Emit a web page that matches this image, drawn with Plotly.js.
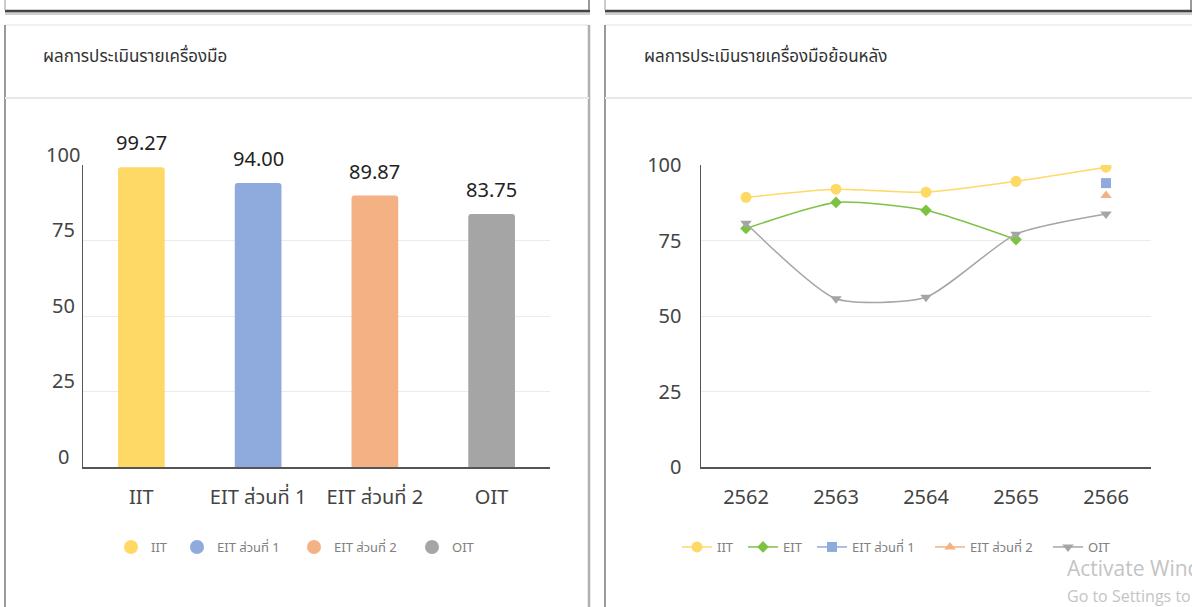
<!DOCTYPE html>
<html>
<head>
<meta charset="utf-8">
<script src="https://cdn.plot.ly/plotly-3.0.1.min.js"></script>
<style>
html,body{margin:0;padding:0;background:#fff;overflow:hidden;}
#chart{width:1192px;height:607px;}
</style>
</head>
<body>
<div id="chart"></div>
<script>
// ---- data ----
const barTitle = "ผลการประเมินรายเครื่องมือ";
const lineTitle = "ผลการประเมินรายเครื่องมือย้อนหลัง";
const barCategories = ["IIT", "EIT ส่วนที่ 1", "EIT ส่วนที่ 2", "OIT"];
const barValues = [99.27, 94.00, 89.87, 83.75];
const barColors = ["#FFD966", "#8FAADC", "#F4B183", "#A5A5A5"];
const yTicks = [0, 25, 50, 75, 100];

const years = ["2562", "2563", "2564", "2565", "2566"];
const iitSeries = [89.3, 92.0, 91.0, 94.6, 99.27];
const eitSeries = [79.0, 87.6, 85.0, 75.3, null];
const eit1Series = [null, null, null, null, 94.00];
const eit2Series = [null, null, null, null, 89.87];
const oitSeries = [80.7, 55.7, 56.2, 77.1, 83.75];
const lineNames = ["IIT", "EIT", "EIT ส่วนที่ 1", "EIT ส่วนที่ 2", "OIT"];
const lineColors = ["#FFD966", "#7DC242", "#8FAADC", "#F4B183", "#A5A5A5"];

// ---- helpers (pixel -> paper) ----
const W = 1192, H = 607;
const X = p => p / W;
const Y = p => 1 - p / H;
const FONT = "'Noto Sans', 'Noto Sans Thai', 'Open Sans', sans-serif";

// legend item symbol centres (pixels)
const barLegendX = [131, 197, 314, 432];
const lineLegendX = [697, 763, 832, 950, 1068];
const legendY = 547;

const traces = [];
const layoutLegends = {};
const legendStyle = (px) => ({
  orientation: "h", x: X(px - 20), xanchor: "left", y: Y(legendY), yanchor: "middle",
  font: {family: FONT, size: 13, color: "#808080"}, bgcolor: "rgba(0,0,0,0)", borderwidth: 0
});

// bars
traces.push({
  type: "bar", x: barCategories, y: barValues,
  marker: {color: barColors, cornerradius: 3},
  width: 0.4, showlegend: false, hoverinfo: "x+y",
  xaxis: "x", yaxis: "y"
});
// legend entries (circles) for bar chart
let legIdx = 1;
barCategories.forEach((c, i) => {
  const key = legIdx === 1 ? "legend" : "legend" + legIdx;
  layoutLegends[key] = legendStyle(barLegendX[i]);
  traces.push({
    type: "scatter", mode: "markers", x: [null], y: [null], name: c,
    marker: {color: barColors[i], size: 14, symbol: "circle"},
    xaxis: "x", yaxis: "y", legend: key
  });
  legIdx++;
});
// lines
const lineData = [iitSeries, eitSeries, eit1Series, eit2Series, oitSeries];
const symbols = ["circle", "diamond", "square", "triangle-up", "triangle-down"];
const sizes = [11, 9, 10, 10, 10];
lineData.forEach((d, i) => {
  const key = "legend" + legIdx;
  layoutLegends[key] = legendStyle(lineLegendX[i]);
  traces.push({
    type: "scatter", mode: "lines+markers", x: years, y: d, name: lineNames[i],
    line: {color: lineColors[i], width: 1.5, shape: "spline", smoothing: 0.6},
    marker: {color: lineColors[i], size: sizes[i], symbol: symbols[i]},
    connectgaps: false,
    xaxis: "x2", yaxis: "y2", legend: key
  });
  legIdx++;
});

const annotations = [];
// bar value labels
barCategories.forEach((c, i) => {
  annotations.push({
    xref: "x", yref: "y", x: c, y: barValues[i], text: barValues[i].toFixed(2),
    showarrow: false, yanchor: "bottom", yshift: 9,
    font: {family: FONT, size: 20, color: "#222"}
  });
});
// left y tick labels (centered above gridlines)
yTicks.forEach(t => {
  annotations.push({
    xref: "paper", yref: "y", x: X(63), y: t, text: String(t),
    showarrow: false, xanchor: "center", yanchor: "middle", yshift: 11,
    font: {family: FONT, size: 20, color: "#444"}
  });
});
// card titles
annotations.push({xref: "paper", yref: "paper", x: X(41), y: Y(56), text: barTitle,
  showarrow: false, xanchor: "left", yanchor: "middle", font: {family: FONT, size: 17, color: "#333"}});
annotations.push({xref: "paper", yref: "paper", x: X(642), y: Y(56), text: lineTitle,
  showarrow: false, xanchor: "left", yanchor: "middle", font: {family: FONT, size: 17, color: "#333"}});
// windows watermark (cut by the right edge as in the reference)
annotations.push({xref: "paper", yref: "paper", x: X(1065), y: Y(568), text: "Activate Windows",
  showarrow: false, xanchor: "left", yanchor: "middle", font: {family: "'Open Sans', sans-serif", size: 21, color: "#c4c4c4"}});
annotations.push({xref: "paper", yref: "paper", x: X(1065), y: Y(596), text: "Go to Settings to activate Windows.",
  showarrow: false, xanchor: "left", yanchor: "middle", font: {family: "'Open Sans', sans-serif", size: 16, color: "#c4c4c4"}});

const shapes = [];
const line = (x0, y0, x1, y1, color, width) => shapes.push({
  type: "line", xref: "paper", yref: "paper", x0: X(x0), y0: Y(y0), x1: X(x1), y1: Y(y1),
  line: {color: color, width: width}, layer: "below"
});
// previous cards' bottom edges
[[5, 590], [605, 1192]].forEach(([a, b]) => {
  line(a, 13.5, b, 13.5, "#d0d0d0", 3);
  line(a, 11, b, 11, "#444", 2.5);
  line(a, 0, a, 10, "#bbb", 1.5);
  line(b - 1, 0, b - 1, 10, "#999", 2);
});
// cards
[[5, 589], [605, 1200]].forEach(([a, b]) => {
  line(a, 25, b, 25, "#ececec", 1.5);
  line(a, 25, a, 607, "#9a9a9a", 2);
  line(b, 25, b, 607, "#b0b0b0", 2.5);
  line(a, 98, b, 98, "#e8e8e8", 2);
});

const axisCommon = {
  showline: true, linecolor: "#555", linewidth: 1.5,
  ticks: "", zeroline: false, fixedrange: true,
  tickfont: {family: FONT, size: 20, color: "#444"}
};

const layout = Object.assign({
  width: W, height: H,
  margin: {l: 0, r: 0, t: 0, b: 0},
  paper_bgcolor: "#fff", plot_bgcolor: "#fff",
  showlegend: true,
  barmode: "overlay",
  xaxis: Object.assign({}, axisCommon, {
    domain: [X(83), X(550)], anchor: "y", type: "category",
    showgrid: false, ticklabelstandoff: 11
  }),
  yaxis: Object.assign({}, axisCommon, {
    domain: [Y(467), Y(165)], anchor: "x", range: [0, 100],
    tickvals: yTicks, showgrid: true, gridcolor: "#ebebeb", gridwidth: 1,
    showticklabels: false
  }),
  xaxis2: Object.assign({}, axisCommon, {
    domain: [X(701), X(1151)], anchor: "y2", type: "category",
    range: [-0.5, 4.5], showgrid: false, ticklabelstandoff: 11
  }),
  yaxis2: Object.assign({}, axisCommon, {
    domain: [Y(467), Y(165)], anchor: "x2", range: [0, 100],
    tickvals: yTicks, showgrid: true, gridcolor: "#ebebeb", gridwidth: 1,
    ticklabelstandoff: 14
  }),
  annotations: annotations,
  shapes: shapes
}, layoutLegends);

Plotly.newPlot("chart", traces, layout, {displayModeBar: false, staticPlot: true});
</script>
</body>
</html>
